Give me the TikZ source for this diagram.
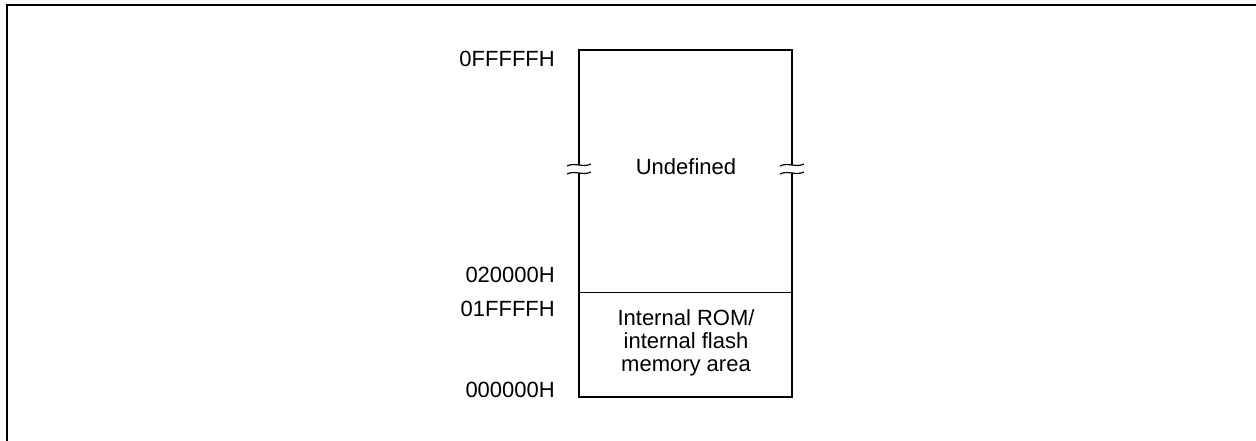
\documentclass[tikz,border=0pt]{standalone}
\usepackage{fontspec}
\setmainfont{Liberation Sans}
\begin{document}
\begin{tikzpicture}[x=1pt,y=1pt,
  lbl/.style={anchor=east,inner sep=0pt,font=\fontsize{22}{23}\selectfont},
  txt/.style={align=center,inner sep=0pt,font=\fontsize{22}{23}\selectfont},
  brk/.style={line width=1.2pt}]
\useasboundingbox (0,0) rectangle (1256,440);
% outer frame (only left and top visible)
\draw[line width=2.2pt] (7,-5) -- (7,435) -- (1262,435);
% memory box
\coordinate (bl) at (579,43);
\coordinate (tr) at (792,390);
\draw[line width=1.8pt] (bl) rectangle (tr);
\draw[line width=0.9pt] (579,148) -- (792,148);
% break marks
\foreach \xc in {579,792}{
  \fill[white] (\xc-3,267) rectangle (\xc+3,275);
  \draw[brk] (\xc-12,274) .. controls (\xc-4,278) and (\xc+4,272) .. (\xc+12,276);
  \draw[brk] (\xc-12,266) .. controls (\xc-4,270) and (\xc+4,264) .. (\xc+12,268);
}
% labels
\node[lbl] (a0) at (555,381) {0FFFFFH};
\node[lbl] (a1) at (555,165) {020000H};
\node[lbl] (a2) at (555,131) {01FFFFH};
\node[lbl] (a3) at (555,50) {000000H};
\node[txt] (u) at (686,273) {Undefined};
\node[txt] (rom) at (686,97) {Internal ROM/\\internal flash\\memory area};
\end{tikzpicture}
\end{document}
